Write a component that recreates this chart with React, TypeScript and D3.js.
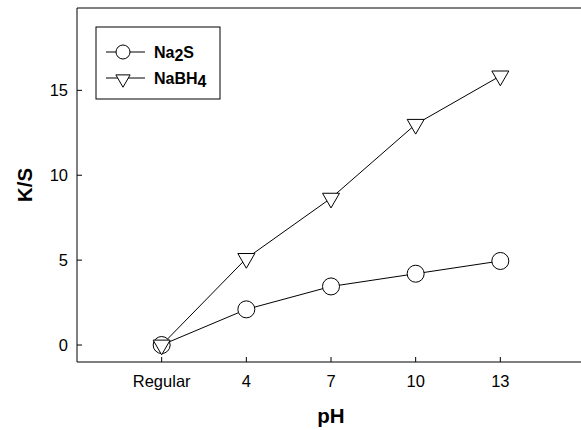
import { useRef, useEffect } from 'react'
import * as d3 from 'd3'

// Categories along the x axis (pH)
const categories = ['Regular', '4', '7', '10', '13']
// K/S values for each treatment
const na2sValues = [0, 2.1, 3.45, 4.2, 4.95]
const nabh4Values = [0, 5.1, 8.65, 13.0, 15.85]
const yTicks = [0, 5, 10, 15]

const W = 581
const H = 430

function App() {
  const svgRef = useRef<SVGSVGElement>(null)

  useEffect(() => {
    if (!svgRef.current) return
    const svg = d3.select(svgRef.current)
    svg.selectAll('*').remove()

    const margin = { top: 8, right: -4, bottom: 68, left: 77 }
    const innerWidth = W - margin.left - margin.right
    const innerHeight = H - margin.top - margin.bottom
    const font = '"Liberation Sans", Arial, sans-serif'

    const g = svg.append('g').attr('transform', `translate(${margin.left},${margin.top})`)

    // index -1..5 so the categories sit inside the frame
    const x = d3.scaleLinear().domain([-1, 5]).range([0, innerWidth])
    const y = d3.scaleLinear().domain([-1, 19.85]).range([innerHeight, 0])

    // frame: left, bottom and top lines
    g.append('line').attr('x1', 0).attr('x2', 0).attr('y1', 0).attr('y2', innerHeight)
      .attr('stroke', '#000')
    g.append('line').attr('x1', 0).attr('x2', innerWidth).attr('y1', innerHeight).attr('y2', innerHeight)
      .attr('stroke', '#000')
    g.append('line').attr('x1', 0).attr('x2', innerWidth).attr('y1', 0).attr('y2', 0)
      .attr('stroke', '#000')

    // Y ticks (inward)
    yTicks.forEach(t => {
      g.append('line').attr('x1', 0).attr('x2', 5).attr('y1', y(t)).attr('y2', y(t))
        .attr('stroke', '#000')
      g.append('text').attr('x', -9).attr('y', y(t)).attr('dy', '0.35em')
        .attr('text-anchor', 'end').attr('font-family', font).attr('font-size', 16.5)
        .text(t)
    })

    // X ticks (inward)
    categories.forEach((c, i) => {
      g.append('line').attr('x1', x(i)).attr('x2', x(i)).attr('y1', innerHeight).attr('y2', innerHeight - 5)
        .attr('stroke', '#000')
      g.append('text').attr('x', x(i)).attr('y', innerHeight + 25)
        .attr('text-anchor', 'middle').attr('font-family', font).attr('font-size', 16.5)
        .text(c)
    })

    // axis titles
    g.append('text').attr('x', innerWidth / 2).attr('y', innerHeight + 61)
      .attr('text-anchor', 'middle').attr('font-family', font).attr('font-size', 20.5)
      .attr('font-weight', 'bold').text('pH')
    g.append('text')
      .attr('transform', `translate(${-45},${innerHeight / 2}) rotate(-90)`)
      .attr('text-anchor', 'middle').attr('font-family', font).attr('font-size', 20.5)
      .attr('font-weight', 'bold').text('K/S')

    const line = d3.line<number>().x((d, i) => x(i)).y(d => y(d))
    const tri = d3.symbol().type(d3.symbolTriangle).size(125)
    const triSmall = d3.symbol().type(d3.symbolTriangle).size(88)

    // series lines
    g.append('path').datum(nabh4Values).attr('d', line).attr('fill', 'none').attr('stroke', '#000')
    g.append('path').datum(na2sValues).attr('d', line).attr('fill', 'none').attr('stroke', '#000')

    // markers
    g.selectAll('.na2s').data(na2sValues).enter().append('circle')
      .attr('cx', (d, i) => x(i)).attr('cy', d => y(d)).attr('r', 8.5)
      .attr('fill', '#fff').attr('stroke', '#000')
    g.selectAll('.nabh4').data(nabh4Values).enter().append('path')
      .attr('d', tri)
      .attr('transform', (d, i) => `translate(${x(i)},${y(d)}) rotate(180)`)
      .attr('fill', '#fff').attr('stroke', '#000')

    // legend
    const legend = svg.append('g').attr('transform', 'translate(96,27)')
    legend.append('rect').attr('x', 0).attr('y', 0).attr('width', 124).attr('height', 72)
      .attr('fill', '#fff').attr('stroke', '#000')
    const items = [
      { name: 'Na', sub: '2', tail: 'S', shape: 'circle' },
      { name: 'NaBH', sub: '4', tail: '', shape: 'tri' },
    ]
    items.forEach((it, i) => {
      const row = legend.append('g').attr('transform', `translate(0,${25 + i * 26})`)
      row.append('line').attr('x1', 10).attr('x2', 49).attr('y1', 0).attr('y2', 0).attr('stroke', '#000')
      if (it.shape === 'circle') {
        row.append('circle').attr('cx', 27).attr('cy', 0).attr('r', 7).attr('fill', '#fff').attr('stroke', '#000')
      } else {
        row.append('path').attr('d', triSmall).attr('transform', 'translate(27,1) rotate(180)')
          .attr('fill', '#fff').attr('stroke', '#000')
      }
      const t = row.append('text').attr('x', 58).attr('y', 0).attr('dy', '0.35em')
        .attr('font-family', font).attr('font-size', 16).attr('font-weight', 'bold')
      t.append('tspan').text(it.name)
      t.append('tspan').attr('dy', 3).text(it.sub)
      if (it.tail) t.append('tspan').attr('dy', -3).text(it.tail)
    })
  }, [])

  return (
    <svg
      ref={svgRef}
      width={W}
      height={H}
      style={{ position: 'absolute', left: 0, top: 0, background: '#fff' }}
    />
  )
}

export default App
